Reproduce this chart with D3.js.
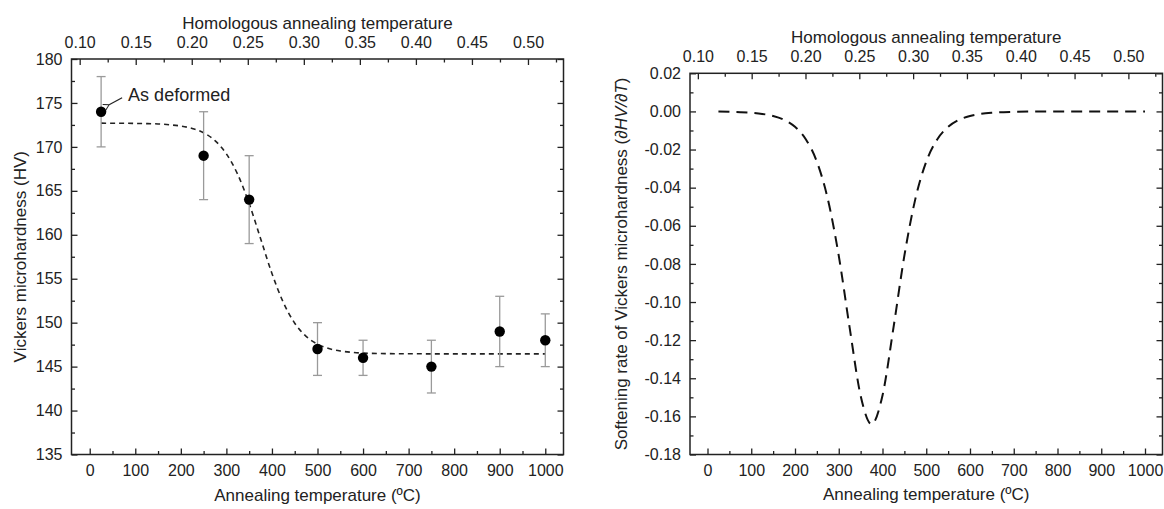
<!DOCTYPE html>
<html>
<head>
<meta charset="utf-8">
<script src="https://cdn.jsdelivr.net/npm/d3@7"></script>
<style>
  body { margin: 0; background: #fff; }
  svg text { font-family: Arial, 'Liberation Sans', sans-serif; fill: #222; }
</style>
</head>
<body>
<svg width="1164" height="509"></svg>
<script>
// measured hardness (HV) with error bars
const tempC = [25, 250, 350, 500, 600, 750, 900, 1000]
const hardness = [174, 169, 164, 147, 146, 145, 149, 148]
const hvLow = [170, 164, 159, 144, 144, 142, 145, 145]
const hvHigh = [178, 174, 169, 150, 148, 148, 153, 151]

// fitted curve
const fitT = [25, 50, 75, 100, 125, 150, 175, 200, 225, 250, 275, 300, 325, 350, 375,
  400, 425, 450, 475, 500, 525, 550, 575, 600, 650, 700, 800, 900, 1000]
const fitHV = [172.70, 172.69, 172.69, 172.67, 172.65, 172.61, 172.52, 172.37, 172.10, 171.60,
  170.71, 169.21, 166.85, 163.55, 159.58, 155.60, 152.30, 149.94, 148.44, 147.55, 147.05,
  146.78, 146.63, 146.54, 146.48, 146.46, 146.45, 146.45, 146.45]

// softening rate
const rateT = [25, 50, 75, 100, 125, 150, 175, 200, 225, 250, 275, 300, 325, 350, 375,
  400, 425, 450, 475, 500, 525, 550, 575, 600, 625, 650, 700, 750, 800, 900, 1000]
const rate = [-0.0001, -0.0002, -0.0004, -0.0007, -0.0013, -0.0024, -0.0044, -0.0081, -0.0147,
  -0.0264, -0.0460, -0.0757, -0.1136, -0.1491, -0.1641, -0.1490, -0.1136, -0.0757, -0.0460,
  -0.0264, -0.0147, -0.0081, -0.0044, -0.0024, -0.0013, -0.0007, -0.0002, 0, 0, 0, 0]

// tick values
const tempTicks = [0, 100, 200, 300, 400, 500, 600, 700, 800, 900, 1000]
const tempMinor = [50, 150, 250, 350, 450, 550, 650, 750, 850, 950]
const homTicks = [0.10, 0.15, 0.20, 0.25, 0.30, 0.35, 0.40, 0.45, 0.50]
const homMinor = [0.125, 0.175, 0.225, 0.275, 0.325, 0.375, 0.425, 0.475, 0.525]
const hvTicks = [135, 140, 145, 150, 155, 160, 165, 170, 175, 180]
const hvMinor = [137.5, 142.5, 147.5, 152.5, 157.5, 162.5, 167.5, 172.5, 177.5]
const rateTicks = [-0.18, -0.16, -0.14, -0.12, -0.10, -0.08, -0.06, -0.04, -0.02, 0.00, 0.02]
const rateMinor = [-0.17, -0.15, -0.13, -0.11, -0.09, -0.07, -0.05, -0.03, -0.01, 0.01]

const svg = d3.select('svg')

function panel (box, yDomain, yTicks, yMinor, yFormat, yTitle) {
  const g = svg.append('g').attr('transform', 'translate(' + box.left + ',' + box.top + ')')
  const w = box.right - box.left
  const h = box.bottom - box.top

  const x = d3.scaleLinear().domain([-40, 1040]).range([0, w])
  const xTop = d3.scaleLinear().domain([0.0927, 0.5317]).range([0, w])
  const y = d3.scaleLinear().domain(yDomain).range([h, 0])

  const style = function (sel) {
    sel.select('.domain').remove()
    sel.selectAll('line').attr('stroke', '#222').attr('stroke-width', 1.3)
    sel.selectAll('text').attr('font-size', 16).attr('font-family', 'Arial, Liberation Sans, sans-serif').attr('fill', '#222')
  }

  // major + minor ticks, all pointing inward
  g.append('g').attr('transform', 'translate(0,' + h + ')')
    .call(d3.axisBottom(x).tickValues(tempTicks).tickFormat(function (d) { return String(d) })
      .tickSizeInner(-6).tickSizeOuter(0).tickPadding(10.5))
    .call(style)
  g.append('g').attr('transform', 'translate(0,' + h + ')')
    .call(d3.axisBottom(x).tickValues(tempMinor).tickSizeInner(-3.5).tickSizeOuter(0).tickFormat(''))
    .call(style)
  g.append('g')
    .call(d3.axisTop(xTop).tickValues(homTicks).tickFormat(function (d) { return d.toFixed(2) })
      .tickSizeInner(-6).tickSizeOuter(0).tickPadding(11))
    .call(style)
  g.append('g')
    .call(d3.axisTop(xTop).tickValues(homMinor).tickSizeInner(-3.5).tickSizeOuter(0).tickFormat(''))
    .call(style)
  g.append('g')
    .call(d3.axisLeft(y).tickValues(yTicks).tickFormat(yFormat).tickSizeInner(-6).tickSizeOuter(0).tickPadding(9))
    .call(style)
  g.append('g')
    .call(d3.axisLeft(y).tickValues(yMinor).tickSizeInner(-3.5).tickSizeOuter(0).tickFormat(''))
    .call(style)
  g.append('g').attr('transform', 'translate(' + w + ',0)')
    .call(d3.axisRight(y).tickValues(yTicks).tickSizeInner(-6).tickSizeOuter(0).tickFormat(''))
    .call(style)
  g.append('g').attr('transform', 'translate(' + w + ',0)')
    .call(d3.axisRight(y).tickValues(yMinor).tickSizeInner(-3.5).tickSizeOuter(0).tickFormat(''))
    .call(style)

  g.append('rect')
    .attr('width', w)
    .attr('height', h)
    .attr('fill', 'none')
    .attr('stroke', '#222')
    .attr('stroke-width', 1.5)

  g.append('text')
    .attr('x', w / 2)
    .attr('y', -30)
    .attr('text-anchor', 'middle')
    .attr('font-size', 17)
    .text('Homologous annealing temperature')

  g.append('text')
    .attr('x', w / 2)
    .attr('y', h + 46)
    .attr('text-anchor', 'middle')
    .attr('font-size', 17)
    .text('Annealing temperature (ºC)')

  const yt = g.append('text')
    .attr('transform', 'translate(' + box.titleX + ',' + h / 2 + ') rotate(-90)')
    .attr('text-anchor', 'middle')
    .attr('font-size', 17)
  yTitle(yt)

  return { g: g, x: x, y: y }
}

// left panel: hardness
const left = panel({ left: 71.5, right: 563.5, top: 59, bottom: 454.5, titleX: -46 },
  [135, 180], hvTicks, hvMinor, function (d) { return String(d) },
  function (t) { t.text('Vickers microhardness (HV)') })

const fitLine = d3.line()
  .x(function (d, i) { return left.x(fitT[i]) })
  .y(function (d) { return left.y(d) })
  .curve(d3.curveMonotoneX)

left.g.append('path')
  .attr('d', fitLine(fitHV))
  .attr('fill', 'none')
  .attr('stroke', '#222')
  .attr('stroke-width', 1.6)
  .attr('stroke-dasharray', '5,4')

const bars = left.g.selectAll('.err')
  .data(tempC)
  .enter()
  .append('g')
  .attr('class', 'err')
  .attr('stroke', '#9a9a9a')
  .attr('stroke-width', 1.3)

bars.append('line')
  .attr('x1', function (d) { return left.x(d) })
  .attr('x2', function (d) { return left.x(d) })
  .attr('y1', function (d, i) { return left.y(hvLow[i]) })
  .attr('y2', function (d, i) { return left.y(hvHigh[i]) })
bars.append('line')
  .attr('x1', function (d) { return left.x(d) - 4.5 })
  .attr('x2', function (d) { return left.x(d) + 4.5 })
  .attr('y1', function (d, i) { return left.y(hvLow[i]) })
  .attr('y2', function (d, i) { return left.y(hvLow[i]) })
bars.append('line')
  .attr('x1', function (d) { return left.x(d) - 4.5 })
  .attr('x2', function (d) { return left.x(d) + 4.5 })
  .attr('y1', function (d, i) { return left.y(hvHigh[i]) })
  .attr('y2', function (d, i) { return left.y(hvHigh[i]) })

left.g.selectAll('.pt')
  .data(tempC)
  .enter()
  .append('circle')
  .attr('class', 'pt')
  .attr('cx', function (d) { return left.x(d) })
  .attr('cy', function (d, i) { return left.y(hardness[i]) })
  .attr('r', 5.2)
  .attr('fill', '#000')

// "As deformed" note with arrow
const px = left.x(tempC[0])
const py = left.y(hardness[0])
svg.append('defs').append('marker')
  .attr('id', 'head')
  .attr('viewBox', '-1 -5 10 10')
  .attr('markerWidth', 8)
  .attr('markerHeight', 8)
  .attr('markerUnits', 'userSpaceOnUse')
  .attr('orient', 'auto-start-reverse')
  .append('path')
  .attr('d', 'M7,-4L0,0L7,4')
  .attr('fill', 'none')
  .attr('stroke', '#222')
  .attr('stroke-width', 1.2)

left.g.append('line')
  .attr('x1', px + 8)
  .attr('y1', py - 7)
  .attr('x2', px + 21)
  .attr('y2', py - 14)
  .attr('stroke', '#222')
  .attr('stroke-width', 1.2)
  .attr('marker-start', 'url(#head)')

left.g.append('text')
  .attr('x', px + 27)
  .attr('y', py - 11)
  .attr('font-size', 18)
  .text('As deformed')

// right panel: softening rate
const right = panel({ left: 690, right: 1162.5, top: 73.3, bottom: 454.5, titleX: -63 },
  [-0.18, 0.02], rateTicks, rateMinor, function (d) { return d.toFixed(2) },
  function (t) {
    t.append('tspan').text('Softening rate of Vickers microhardness (')
    t.append('tspan').attr('font-style', 'italic').text('∂HV/∂T')
    t.append('tspan').text(')')
  })

const rateLine = d3.line()
  .x(function (d, i) { return right.x(rateT[i]) })
  .y(function (d) { return right.y(d) })
  .curve(d3.curveMonotoneX)

right.g.append('path')
  .attr('d', rateLine(rate))
  .attr('fill', 'none')
  .attr('stroke', '#111')
  .attr('stroke-width', 2)
  .attr('stroke-dasharray', '11,7')
</script>
</body>
</html>
